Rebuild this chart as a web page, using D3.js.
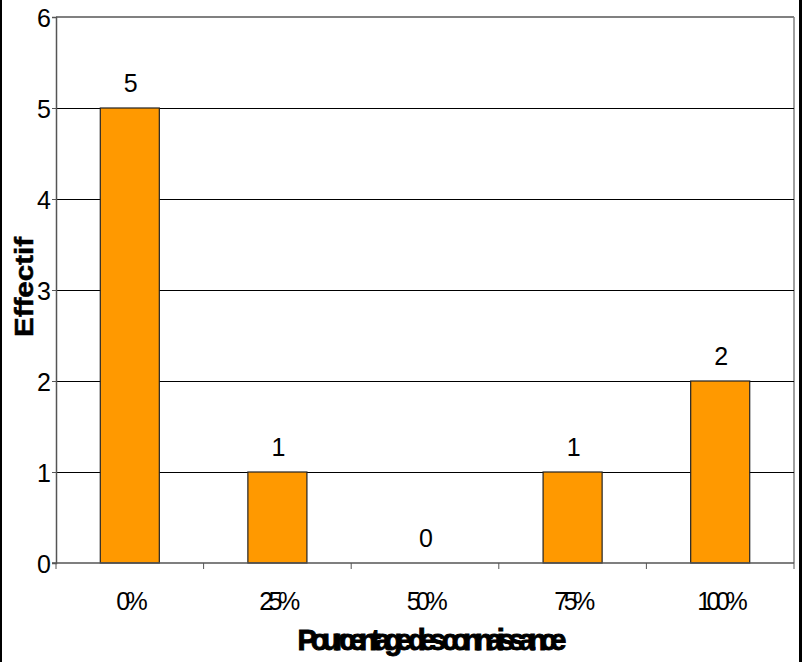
<!DOCTYPE html>
<html><head><meta charset="utf-8">
<script src="https://cdn.jsdelivr.net/npm/d3@7"></script>
<style>body{margin:0;background:#fff}svg{display:block;font-family:"Liberation Sans",Arial,sans-serif}</style>
</head><body><svg id="c" width="805" height="662"></svg>
<script>
const categories = ["0%","25%","50%","75%","100%"];
const values = [5,1,0,1,2];
const yTicks = [0,1,2,3,4,5,6];
const xTitle = "Pourcentage des connaissance";
const yTitle = "Effectif";

const svg = d3.select("#c");
const L = 56, R = 794, T = 17, B = 563;
const x = d3.scaleBand().domain(categories).range([L, R]).paddingInner(0.6).paddingOuter(0.3);
const xb = d3.scaleBand().domain(categories).range([L, R]);
const y = d3.scaleLinear().domain([0, 6]).range([B, T]);

// outer frame
svg.append("line").attr("x1",1).attr("x2",1).attr("y1",0).attr("y2",662).attr("stroke","#000").attr("stroke-width",2);
svg.append("line").attr("x1",800.5).attr("x2",800.5).attr("y1",0).attr("y2",662).attr("stroke","#000").attr("stroke-width",3);

// plot border gray top/right
svg.append("line").attr("x1",L).attr("x2",R).attr("y1",T).attr("y2",T).attr("stroke","#808080").attr("stroke-width",2);
svg.append("line").attr("x1",R).attr("x2",R).attr("y1",T).attr("y2",B).attr("stroke","#808080").attr("stroke-width",1.5);

// gridlines
svg.append("g").selectAll("line").data(yTicks.filter(d=>d>0 && d<6)).join("line")
  .attr("x1",L).attr("x2",R).attr("y1",d=>Math.round(y(d))+0.5).attr("y2",d=>Math.round(y(d))+0.5)
  .attr("stroke","#000").attr("stroke-width",1);

// bars
svg.append("g").selectAll("rect").data(values).join("rect")
  .attr("x",(d,i)=>x(categories[i])).attr("width",x.bandwidth())
  .attr("y",d=>y(d)).attr("height",d=>B-y(d))
  .attr("fill","#FF9900").attr("stroke","#222").attr("stroke-width",1.2);

// y axis
const ya = d3.axisLeft(y).tickValues(yTicks).tickSize(4).tickFormat(d3.format("d"));
const gy = svg.append("g").attr("transform",`translate(${L},0)`).call(ya);
gy.select(".domain").attr("stroke","#555").attr("stroke-width",1.5);
gy.selectAll(".tick line").attr("stroke","#555");
gy.selectAll(".tick text").attr("font-size",25).attr("fill","#000").attr("x",-5).attr("dy","0.36em")
  .attr("font-family","Liberation Sans, Arial, sans-serif");

// x axis
const gx = svg.append("g").attr("transform",`translate(0,${B})`);
gx.append("line").attr("x1",L-4).attr("x2",R).attr("y1",0).attr("y2",0).attr("stroke","#555").attr("stroke-width",1.5);
const bounds = categories.map(c=>xb(c)).concat([R]);
gx.selectAll("line.tk").data(bounds).join("line").attr("class","tk")
  .attr("x1",d=>d).attr("x2",d=>d).attr("y1",0).attr("y2",6).attr("stroke","#555");
gx.selectAll("text").data(categories).join("text")
  .attr("x",d=>xb(d)+xb.bandwidth()/2).attr("y",47)
  .attr("text-anchor","middle").attr("font-size",25).attr("letter-spacing","-4.5px")
  .text(d=>d);

// value labels
svg.append("g").selectAll("text").data(values).join("text")
  .attr("x",(d,i)=>x(categories[i])+x.bandwidth()/2+1).attr("y",d=>y(d)-16)
  .attr("text-anchor","middle").attr("font-size",25).text(d=>d);

// titles
svg.append("text").attr("x",432).attr("y",650).attr("text-anchor","middle")
  .attr("font-size",29).attr("font-weight","bold").attr("textLength",269).attr("lengthAdjust","spacing")
  .attr("stroke","#000").attr("stroke-width",0.9)
  .text(xTitle);
svg.append("text").attr("transform","translate(33,287) rotate(-90)").attr("text-anchor","middle")
  .attr("font-size",26).attr("font-weight","bold").attr("textLength",100).attr("lengthAdjust","spacingAndGlyphs")
  .attr("stroke","#000").attr("stroke-width",0.5)
  .text(yTitle);
</script></body></html>
